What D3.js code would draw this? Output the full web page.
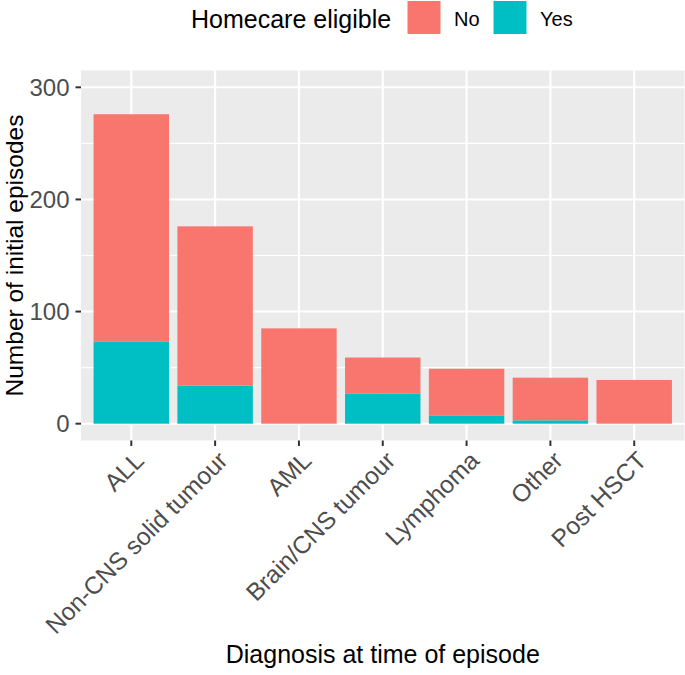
<!DOCTYPE html>
<html>
<head>
<meta charset="utf-8">
<script src="https://cdn.jsdelivr.net/npm/d3@7"></script>
<style>
  html, body { margin: 0; padding: 0; background: #fff; }
  text { font-family: "Liberation Sans", Arial, sans-serif; }
</style>
</head>
<body>
<svg id="chart" width="685" height="675"></svg>
<script>
const categories = ["ALL", "Non-CNS solid tumour", "AML", "Brain/CNS tumour", "Lymphoma", "Other", "Post HSCT"];
const yesValues = [73, 34, 0, 27, 7, 3, 0];
const noValues  = [203, 142, 85, 32, 42, 38, 39];
const seriesNames = ["No", "Yes"];
const seriesColors = ["#F8766D", "#00BFC4"];
const yTicks = [0, 100, 200, 300];
const yMinorTicks = [50, 150, 250];

const svg = d3.select("#chart");
const panel = { left: 81, right: 684.5, top: 70.5, bottom: 440.5 };

// ggplot discrete expansion: 0.6 units each side, bar width 0.9
const step = (panel.right - panel.left) / (categories.length + 0.2);
const x = d3.scalePoint().domain(categories)
  .range([panel.left + 0.6 * step, panel.right - 0.6 * step]).padding(0);
const barW = step * 0.9;

const y = d3.scaleLinear().domain([-15, 315]).range([panel.bottom, panel.top]);

// panel
svg.append("rect").attr("x", panel.left).attr("y", panel.top)
  .attr("width", panel.right - panel.left).attr("height", panel.bottom - panel.top)
  .attr("fill", "#EBEBEB");

// minor grid
svg.append("g").selectAll("line").data(yMinorTicks).join("line")
  .attr("x1", panel.left).attr("x2", panel.right)
  .attr("y1", d => y(d)).attr("y2", d => y(d))
  .attr("stroke", "#fff").attr("stroke-width", 1.1);
// major grid
svg.append("g").selectAll("line").data(yTicks).join("line")
  .attr("x1", panel.left).attr("x2", panel.right)
  .attr("y1", d => y(d)).attr("y2", d => y(d))
  .attr("stroke", "#fff").attr("stroke-width", 2.1);
svg.append("g").selectAll("line").data(categories).join("line")
  .attr("y1", panel.top).attr("y2", panel.bottom)
  .attr("x1", d => x(d)).attr("x2", d => x(d))
  .attr("stroke", "#fff").attr("stroke-width", 2.1);

// stacked bars
const rows = categories.map((c, i) => ({ cat: c, No: noValues[i], Yes: yesValues[i] }));
const stack = d3.stack().keys(["Yes", "No"])(rows);
const color = d3.scaleOrdinal().domain(seriesNames).range(seriesColors);
svg.append("g").selectAll("g").data(stack).join("g")
  .attr("fill", s => color(s.key))
  .selectAll("rect").data(s => s.filter(d => d[1] - d[0] > 0)).join("rect")
  .attr("x", d => x(d.data.cat) - barW / 2)
  .attr("width", barW)
  .attr("y", d => y(d[1]))
  .attr("height", d => y(d[0]) - y(d[1]));

// y axis
const yAx = svg.append("g");
yAx.selectAll("line").data(yTicks).join("line")
  .attr("x1", panel.left - 5.5).attr("x2", panel.left)
  .attr("y1", d => y(d)).attr("y2", d => y(d))
  .attr("stroke", "#333333").attr("stroke-width", 2);
yAx.selectAll("text").data(yTicks).join("text")
  .attr("x", panel.left - 11.5).attr("y", d => y(d)).attr("dy", "0.36em")
  .attr("text-anchor", "end").attr("fill", "#4D4D4D")
  .style("font-size", "24px").text(d => d);

// x axis
const xAx = svg.append("g");
xAx.selectAll("line").data(categories).join("line")
  .attr("x1", d => x(d)).attr("x2", d => x(d))
  .attr("y1", panel.bottom).attr("y2", panel.bottom + 5.5)
  .attr("stroke", "#333333").attr("stroke-width", 2);
xAx.selectAll("text").data(categories).join("text")
  .attr("transform", d => `translate(${x(d) + 1},${panel.bottom + 8.5}) rotate(-45)`)
  .attr("dy", "0.75em")
  .attr("text-anchor", "end").attr("fill", "#4D4D4D")
  .style("font-size", "24.5px").text(d => d);

// axis titles
svg.append("text").attr("x", (panel.left + panel.right) / 2).attr("y", 663)
  .attr("text-anchor", "middle").attr("fill", "#000").style("font-size", "25px")
  .text("Diagnosis at time of episode");
svg.append("text")
  .attr("transform", `translate(22.5,${(panel.top + panel.bottom) / 2}) rotate(-90)`)
  .attr("text-anchor", "middle").attr("fill", "#000").style("font-size", "24.5px")
  .text("Number of initial episodes");

// legend
const lg = svg.append("g");
lg.append("text").attr("x", 191).attr("y", 28.3).attr("fill", "#000")
  .style("font-size", "25px").text("Homecare eligible");
const keyX = [407.5, 493.5];
seriesNames.forEach((s, i) => {
  lg.append("rect").attr("x", keyX[i]).attr("y", 1).attr("width", 33).attr("height", 33)
    .attr("fill", color(s));
  lg.append("text").attr("x", keyX[i] + 46.5).attr("y", 26).attr("fill", "#000")
    .style("font-size", "20px").text(s);
});
</script>
</body>
</html>
